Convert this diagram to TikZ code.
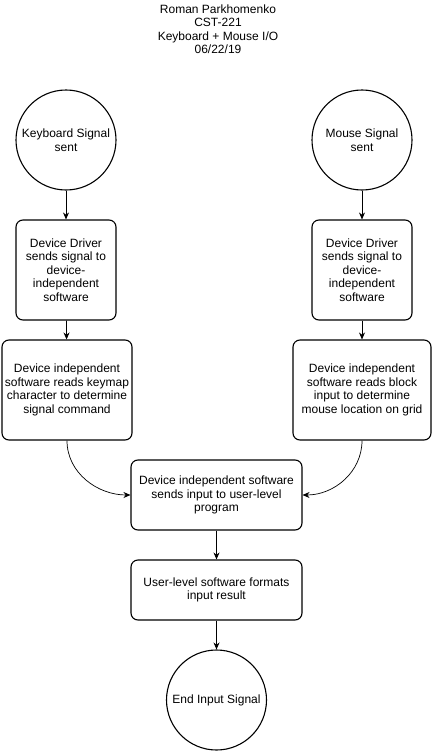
\documentclass[tikz,border=0pt]{standalone}
\usepackage{fontspec}
\setmainfont{Liberation Sans}
\usetikzlibrary{arrows.meta}
\tikzset{
  every node/.style={font=\fontsize{12}{13.5}\selectfont,align=center},
  endpt/.style={draw,circle,line width=1.1pt,minimum size=100pt,inner sep=0pt},
  stepbox/.style={draw,rectangle,rounded corners=7pt,line width=1.1pt,inner sep=2pt},
  flow/.style={-{Stealth[length=7pt,width=6pt]},line width=0.7pt}
}
\begin{document}
\begin{tikzpicture}[x=1pt,y=-1pt]
\useasboundingbox (0,0) rectangle (432,752);
% header
\node (head) at (218,29) {Roman Parkhomenko\\CST-221\\Keyboard + Mouse I/O\\06/22/19};
% keyboard column
\node[endpt] (kbd) at (66,140) {Keyboard Signal\\sent};
\node[stepbox,minimum width=100pt,minimum height=100pt] (kdrv) at (66,270) {Device Driver\\sends signal to\\device-\\independent\\software};
\node[stepbox,minimum width=130pt,minimum height=100pt] (kread) at (67,390) {Device independent\\software reads keymap\\character to determine\\signal command};
% mouse column
\node[endpt] (mouse) at (362,140) {Mouse Signal\\sent};
\node[stepbox,minimum width=100pt,minimum height=100pt] (mdrv) at (362,270) {Device Driver\\sends signal to\\device-\\independent\\software};
\node[stepbox,minimum width=138pt,minimum height=100pt] (mread) at (362,390) {Device independent\\software reads block\\input to determine\\mouse location on grid};
% merged path
\node[stepbox,minimum width=171pt,minimum height=70pt] (send) at (216.5,495) {Device independent software\\sends input to user-level\\program};
\node[stepbox,minimum width=171pt,minimum height=60pt] (fmt) at (216.5,590) {User-level software formats\\input result};
\node[endpt] (done) at (216.5,700) {End Input Signal};
% connectors
\draw[flow] (kbd) -- (kdrv);
\draw[flow] (kdrv) -- (kread);
\draw[flow] (mouse) -- (mdrv);
\draw[flow] (mdrv) -- (mread);
\draw[flow] (kread.south) to[out=-90,in=180] (send.west);
\draw[flow] (mread.south) to[out=-90,in=0] (send.east);
\draw[flow] (send) -- (fmt);
\draw[flow] (fmt) -- (done);
\end{tikzpicture}
\end{document}
